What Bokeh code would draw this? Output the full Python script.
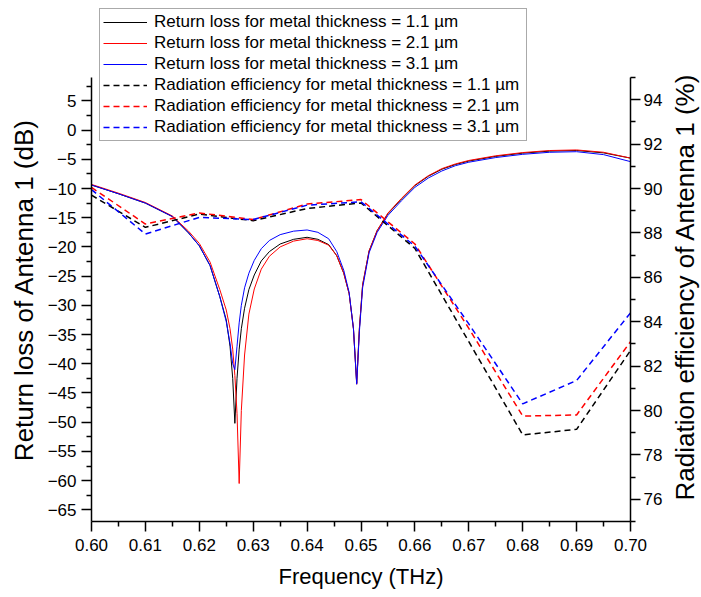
from bokeh.plotting import figure
from bokeh.layouts import row
from bokeh.models import (Range1d, LinearAxis, FixedTicker, NumeralTickFormatter, Legend,
                          LegendItem, Title)
from bokeh.embed import file_html
from bokeh.resources import INLINE

# ---------------- data ----------------
# Return loss (dB), left axis
rl_freq = [0.600, 0.605, 0.610, 0.615, 0.618, 0.620, 0.622, 0.6238, 0.6250, 0.6257,
           0.6262, 0.6266, 0.6270, 0.6274, 0.6278, 0.6284, 0.6292, 0.6302, 0.6315, 0.6330,
           0.6350, 0.6375, 0.6400, 0.6420, 0.6440, 0.6455, 0.6468, 0.6478, 0.6486, 0.6492,
           0.6497, 0.6503, 0.6515, 0.6530, 0.6550, 0.6575, 0.6600, 0.6625, 0.6650, 0.6675,
           0.6700, 0.6750, 0.6800, 0.6850, 0.6900, 0.6950, 0.7000]
rl_1p1 = [-9.4, -10.9, -12.5, -14.8, -17.6, -19.8, -23.2, -28.5, -32.5, -37.0,
          -42.5, -50.2, -42.5, -37.5, -34.0, -30.5, -27.3, -24.8, -22.4, -20.8,
          -19.5, -18.7, -18.35, -18.7, -19.6, -21.5, -24.5, -28.0, -34.0, -43.3,
          -34.0, -26.5, -20.7, -17.2, -14.3, -11.8, -9.5, -7.9, -6.7, -5.9,
          -5.3, -4.5, -3.95, -3.6, -3.5, -3.9, -4.8]
rl_2p1 = [-9.3, -10.8, -12.4, -14.7, -17.3, -19.4, -22.6, -27.3, -30.8, -34.0,
          -37.5, -42.0, -48.5, -60.5, -48.0, -38.5, -31.5, -27.2, -23.8, -21.6,
          -20.0, -19.0, -18.6, -18.9, -19.7, -21.5, -24.5, -28.0, -34.0, -43.5,
          -34.0, -26.5, -20.7, -17.2, -14.2, -11.7, -9.4, -7.8, -6.6, -5.8,
          -5.2, -4.4, -3.85, -3.5, -3.4, -3.8, -4.8]
rl_3p1 = [-9.4, -10.9, -12.5, -14.8, -17.6, -19.8, -23.2, -28.5, -32.8, -36.5,
          -40.0, -41.0, -37.0, -33.0, -30.0, -27.0, -24.5, -22.3, -20.3, -18.9,
          -17.9, -17.3, -17.1, -17.5, -18.6, -20.8, -24.0, -27.8, -34.0, -43.5,
          -34.5, -27.0, -21.0, -17.5, -14.6, -12.1, -9.8, -8.2, -7.0, -6.1,
          -5.5, -4.7, -4.15, -3.8, -3.7, -4.2, -5.4]

# Radiation efficiency (%), right axis
eff_freq = [0.60, 0.61, 0.62, 0.63, 0.64, 0.65, 0.66, 0.67, 0.68, 0.69, 0.70]
eff_1p1 = [89.7, 88.25, 88.85, 88.55, 89.1, 89.35, 87.3, 83.1, 78.9, 79.15, 82.7]
eff_2p1 = [90.05, 88.4, 88.9, 88.6, 89.3, 89.5, 87.5, 83.7, 79.75, 79.8, 83.1]
eff_3p1 = [89.95, 87.95, 88.7, 88.6, 89.25, 89.4, 87.4, 83.9, 80.3, 81.35, 84.4]

x_ticks = [0.60, 0.61, 0.62, 0.63, 0.64, 0.65, 0.66, 0.67, 0.68, 0.69, 0.70]
x_minor = [0.605, 0.615, 0.625, 0.635, 0.645, 0.655, 0.665, 0.675, 0.685, 0.695]
left_ticks = [-65, -60, -55, -50, -45, -40, -35, -30, -25, -20, -15, -10, -5, 0, 5]
left_minor = [-62.5, -57.5, -52.5, -47.5, -42.5, -37.5, -32.5, -27.5, -22.5, -17.5,
              -12.5, -7.5, -2.5, 2.5, 7.5]
right_ticks = [76, 78, 80, 82, 84, 86, 88, 90, 92, 94]
right_minor = [75, 77, 79, 81, 83, 85, 87, 89, 91, 93, 95]

labels_rl = ["Return loss for metal thickness = 1.1 \u00b5m",
             "Return loss for metal thickness = 2.1 \u00b5m",
             "Return loss for metal thickness = 3.1 \u00b5m"]
labels_eff = ["Radiation efficiency for metal thickness = 1.1 \u00b5m",
              "Radiation efficiency for metal thickness = 2.1 \u00b5m",
              "Radiation efficiency for metal thickness = 3.1 \u00b5m"]
colors = ["#000000", "#ff0000", "#0000ff"]

x_label = "Frequency (THz)"
left_label = "Return loss of Antenna 1 (dB)"
right_label = "Radiation efficiency of Antenna 1 (%)"

# axis extents (the drawn axes stop at these bounds)
left_bounds = (-67, 9)
right_bounds = (75, 95)

FONT = "Liberation Sans"
NB = "\u00a0"

# frame spans the whole height above the x axis so the legend can sit above the axes' tops
FRAME_H = 521
AXIS_H = 444
left_top = left_bounds[1] + (FRAME_H - AXIS_H) * (left_bounds[1] - left_bounds[0]) / AXIS_H
right_top = right_bounds[1] + (FRAME_H - AXIS_H) * (right_bounds[1] - right_bounds[0]) / AXIS_H

W_MAIN = 665
W_SIDE = 36

p = figure(width=W_MAIN, height=597, output_backend="svg", toolbar_location=None,
           x_range=Range1d(0.60, 0.70), y_range=Range1d(left_bounds[0], left_top),
           min_border_left=91, min_border_right=W_MAIN - 632, min_border_top=0,
           min_border_bottom=76)
p.extra_y_ranges = {"eff": Range1d(right_bounds[0], right_top)}
p.outline_line_color = None
p.xgrid.visible = False
p.ygrid.visible = False
p.background_fill_color = "white"
p.border_fill_color = "white"


def style_axis(ax, label, standoff, label_standoff, label_size):
    if label is not None:
        ax.axis_label = label
        ax.axis_label_text_font = FONT
        ax.axis_label_text_font_size = label_size
        ax.axis_label_text_font_style = "normal"
        ax.axis_label_text_color = "black"
        ax.axis_label_standoff = label_standoff
    ax.major_label_text_font = FONT
    ax.major_label_text_font_size = "17px"
    ax.major_label_text_color = "black"
    ax.major_label_standoff = standoff
    ax.axis_line_color = "black"
    ax.axis_line_width = 1.5
    ax.major_tick_line_color = "black"
    ax.major_tick_line_width = 1.5
    ax.minor_tick_line_color = "black"
    ax.minor_tick_line_width = 1.5
    ax.major_tick_out = 10
    ax.major_tick_in = 0
    ax.minor_tick_out = 5
    ax.minor_tick_in = 0


xa = p.xaxis[0]
xa.ticker = FixedTicker(ticks=x_ticks, minor_ticks=x_minor)
xa.formatter = NumeralTickFormatter(format="0.00")
style_axis(xa, x_label, 7, 10, "22px")

# trailing no-break spaces push the (frame-centred) label down to the centre of the drawn axis
ya = p.yaxis[0]
ya.ticker = FixedTicker(ticks=left_ticks, minor_ticks=left_minor)
ya.bounds = left_bounds
style_axis(ya, left_label + NB * 8, 5, 6, "26px")

ra = LinearAxis(y_range_name="eff")
ra.ticker = FixedTicker(ticks=right_ticks, minor_ticks=right_minor)
ra.bounds = right_bounds
style_axis(ra, None, 3, 0, "26px")
p.add_layout(ra, "right")

items = []
for vals, col, lab in zip([rl_1p1, rl_2p1, rl_3p1], colors, labels_rl):
    r = p.line(rl_freq, vals, line_color=col, line_width=1)
    items.append(LegendItem(label=lab, renderers=[r]))
for vals, col, lab in zip([eff_1p1, eff_2p1, eff_3p1], colors, labels_eff):
    r = p.line(eff_freq, vals, line_color=col, line_width=1.5, line_dash="6 4",
               y_range_name="eff")
    items.append(LegendItem(label=lab, renderers=[r]))

legend = Legend(items=items, location=(8, 380),
                label_text_font=FONT, label_text_font_size="17px",
                label_text_color="black",
                glyph_width=44, glyph_height=18, label_height=18, label_width=369,
                label_standoff=7, padding=3, spacing=1, margin=0,
                border_line_color="#555555", border_line_width=1.5,
                background_fill_color="white", background_fill_alpha=1.0)
p.add_layout(legend, "center")

# narrow strip to the right carrying the right-hand axis title, read bottom-to-top
p2 = figure(width=W_SIDE, height=597, output_backend="svg", toolbar_location=None,
            x_axis_type=None, y_axis_type=None,
            x_range=Range1d(0, 1), y_range=Range1d(0, 1),
            min_border_left=W_SIDE - 1, min_border_right=1, min_border_top=0,
            min_border_bottom=76)
p2.outline_line_color = None
p2.background_fill_color = "white"
p2.border_fill_color = "white"
rt = Title(text=right_label, align="left", vertical_align="middle", offset=21, standoff=0,
           text_font=FONT, text_font_size="26px", text_font_style="normal",
           text_color="black")
p2.add_layout(rt, "left")

layout = row(p, p2)
open("out.html", "w").write(file_html(layout, INLINE))
